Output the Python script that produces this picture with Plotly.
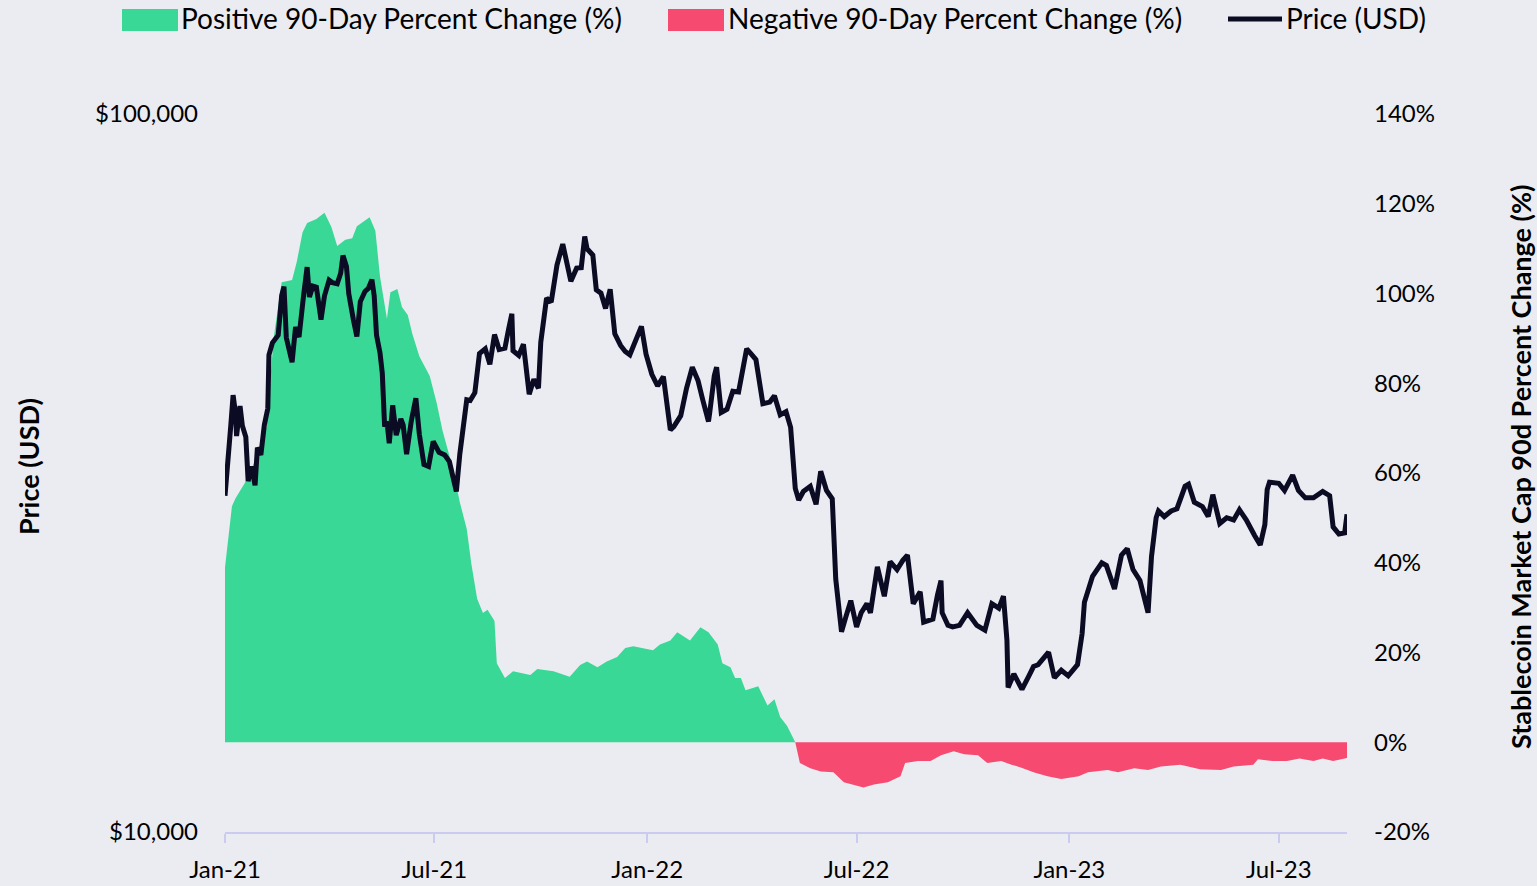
import plotly.graph_objects as go

# ---- Price (USD) ----
price_dates = [
 "2021-01-01","2021-01-03","2021-01-06","2021-01-08","2021-01-10","2021-01-11","2021-01-13","2021-01-14","2021-01-16","2021-01-19",
 "2021-01-21","2021-01-24","2021-01-27","2021-01-29","2021-02-01","2021-02-04","2021-02-07","2021-02-08","2021-02-11","2021-02-14",
 "2021-02-16","2021-02-19","2021-02-21","2021-02-23","2021-02-26","2021-02-28","2021-03-03","2021-03-06","2021-03-10","2021-03-13",
 "2021-03-15","2021-03-18","2021-03-21","2021-03-25","2021-03-28","2021-04-01","2021-04-04","2021-04-08","2021-04-11","2021-04-13",
 "2021-04-16","2021-04-18","2021-04-22","2021-04-25","2021-04-28","2021-05-02","2021-05-05","2021-05-08","2021-05-10","2021-05-12",
 "2021-05-15","2021-05-17","2021-05-19","2021-05-21","2021-05-23","2021-05-26","2021-05-29","2021-06-02","2021-06-04","2021-06-07",
 "2021-06-11","2021-06-15","2021-06-18","2021-06-22","2021-06-26","2021-06-30","2021-07-05","2021-07-10","2021-07-14","2021-07-17",
 "2021-07-20","2021-07-23","2021-07-25","2021-07-29","2021-08-01","2021-08-05","2021-08-09","2021-08-14","2021-08-18","2021-08-22",
 "2021-08-26","2021-08-31","2021-09-03","2021-09-06","2021-09-07","2021-09-12","2021-09-16","2021-09-20","2021-09-21","2021-09-25",
 "2021-09-29","2021-10-01","2021-10-06","2021-10-10","2021-10-15","2021-10-20","2021-10-24","2021-10-27","2021-11-01","2021-11-05",
 "2021-11-08","2021-11-10","2021-11-15","2021-11-18","2021-11-22","2021-11-26","2021-11-30","2021-12-04","2021-12-09","2021-12-13",
 "2021-12-17","2021-12-22","2021-12-27","2021-12-31","2022-01-05","2022-01-10","2022-01-15","2022-01-21","2022-01-24","2022-01-30",
 "2022-02-04","2022-02-09","2022-02-14","2022-02-18","2022-02-23","2022-02-24","2022-02-28","2022-03-02","2022-03-06","2022-03-11",
 "2022-03-16","2022-03-21","2022-03-28","2022-04-01","2022-04-05","2022-04-11","2022-04-17","2022-04-21","2022-04-26","2022-05-01",
 "2022-05-05","2022-05-09","2022-05-12","2022-05-16","2022-05-22","2022-05-27","2022-05-31","2022-06-05","2022-06-10","2022-06-13",
 "2022-06-18","2022-06-22","2022-06-26","2022-07-01","2022-07-05","2022-07-10","2022-07-13","2022-07-19","2022-07-25","2022-07-30",
 "2022-08-05","2022-08-10","2022-08-14","2022-08-19","2022-08-25","2022-08-28","2022-09-05","2022-09-09","2022-09-12","2022-09-13",
 "2022-09-18","2022-09-22","2022-09-28","2022-10-05","2022-10-13","2022-10-20","2022-10-26","2022-11-01","2022-11-05","2022-11-08",
 "2022-11-09","2022-11-14","2022-11-21","2022-11-27","2022-12-01","2022-12-05","2022-12-14","2022-12-19","2022-12-25","2022-12-31",
 "2023-01-08","2023-01-12","2023-01-14","2023-01-21","2023-01-29","2023-02-02","2023-02-09","2023-02-15","2023-02-20","2023-02-25",
 "2023-03-03","2023-03-10","2023-03-13","2023-03-17","2023-03-19","2023-03-24","2023-03-30","2023-04-04","2023-04-11","2023-04-14",
 "2023-04-19","2023-04-26","2023-05-01","2023-05-05","2023-05-11","2023-05-17","2023-05-23","2023-05-28","2023-06-03","2023-06-10",
 "2023-06-15","2023-06-19","2023-06-21","2023-06-23","2023-07-01","2023-07-06","2023-07-13","2023-07-18","2023-07-24","2023-07-31",
 "2023-08-08","2023-08-14","2023-08-17","2023-08-22","2023-08-27","2023-08-29",
]
price_usd = [
 29400,32800,36800,40600,38400,35600,37400,39200,36800,35500,
 30800,32300,30400,34300,33500,36900,38900,46200,48000,48700,
 49200,55900,57500,48800,46300,45100,50500,48900,56000,61200,
 55600,57600,57400,51700,55800,58700,58200,58000,60000,63500,
 61300,56200,51700,49000,54800,56600,57200,58800,55800,49200,
 46500,43500,36700,37300,34800,39300,35700,37600,36900,33600,
 37300,40200,35800,32500,32300,35000,33800,33500,32800,31500,
 29800,33600,35400,40000,39900,40900,46400,47100,44800,49300,
 47000,47200,50000,52700,46800,46100,47800,43000,40700,42700,
 41500,48100,55400,54700,61600,65900,61000,58500,61000,61100,
 67500,64900,63600,56900,56300,53600,57000,49400,47600,46700,
 46200,48600,50600,46300,43400,41800,43100,36300,36700,38000,
 41500,44400,42500,40000,37300,38300,43200,44400,38400,38800,
 41100,41000,47100,46300,45500,39500,39700,40500,38100,38500,
 36600,30100,29000,29800,30300,28600,31800,29900,29100,22500,
 19000,20000,21000,19300,20200,20800,20200,23400,21300,23800,
 23200,23900,24300,20800,21600,19600,19800,21400,22400,20200,
 19400,19300,19400,20200,19400,19100,20800,20500,21300,18500,
 15900,16600,15800,16500,17000,17100,17800,16400,16800,16500,
 17100,18900,20900,22700,23700,23500,21800,24300,24800,23200,
 22400,20200,24200,27400,28000,27500,28000,28200,30300,30500,
 28800,28400,27500,29500,26900,27400,27200,28100,27200,25900,
 25100,26800,30000,30700,30600,29900,31400,29900,29200,29200,
 29800,29400,26600,26000,26100,27700,
]

# ---- Stablecoin market cap 90-day percent change (%) ----
chg_dates = [
 "2021-01-01","2021-01-03","2021-01-07","2021-01-10","2021-01-14","2021-01-18","2021-01-31","2021-02-06","2021-02-09","2021-02-12",
 "2021-02-19","2021-02-28","2021-03-04","2021-03-09","2021-03-13","2021-03-21","2021-03-28","2021-04-03","2021-04-08","2021-04-15",
 "2021-04-21","2021-04-25","2021-05-06","2021-05-11","2021-05-15","2021-05-21","2021-05-24","2021-05-30","2021-06-03","2021-06-08",
 "2021-06-12","2021-06-18","2021-06-27","2021-07-03","2021-07-08","2021-07-17","2021-07-23","2021-07-29","2021-08-02","2021-08-07",
 "2021-08-12","2021-08-16","2021-08-22","2021-08-24","2021-08-31","2021-09-07","2021-09-22","2021-09-28","2021-10-12","2021-10-26",
 "2021-11-04","2021-11-10","2021-11-19","2021-11-27","2021-12-06","2021-12-13","2021-12-20","2021-12-29","2022-01-06","2022-01-12",
 "2022-01-21","2022-01-27","2022-02-07","2022-02-16","2022-02-23","2022-03-03","2022-03-07","2022-03-14","2022-03-18","2022-03-23",
 "2022-03-27","2022-04-07","2022-04-15","2022-04-21","2022-04-26","2022-05-02","2022-05-09","2022-05-13","2022-05-22","2022-05-31",
 "2022-06-11","2022-06-20","2022-06-28","2022-07-07","2022-07-16","2022-07-28","2022-08-08","2022-08-12","2022-08-23","2022-09-03",
 "2022-09-12","2022-09-23","2022-10-02","2022-10-14","2022-10-22","2022-11-03","2022-11-12","2022-11-20","2022-12-01","2022-12-13",
 "2022-12-25","2023-01-09","2023-01-17","2023-02-03","2023-02-12","2023-02-26","2023-03-10","2023-03-21","2023-04-07","2023-04-24",
 "2023-05-12","2023-05-23","2023-06-09","2023-06-13","2023-06-26","2023-07-08","2023-07-19","2023-07-31","2023-08-08","2023-08-17",
 "2023-08-29",
]
chg_pct = [
 39.0,44.0,52.6,54.3,56.0,57.7,65.0,70.4,80.0,90.0,
 102.5,103.0,107.0,113.6,115.7,116.6,118.0,114.8,110.6,112.0,
 112.3,115.0,117.0,114.0,103.8,94.4,100.3,101.0,97.0,95.2,
 91.0,86.0,81.6,75.6,69.5,61.0,53.5,47.5,39.7,32.0,
 28.8,29.5,27.0,17.6,14.3,15.8,15.0,16.3,15.8,14.6,
 17.2,18.0,16.7,18.0,19.0,21.0,21.4,21.0,20.5,21.8,
 22.7,24.5,22.7,25.6,24.5,21.8,17.6,16.7,14.3,14.3,
 11.6,12.5,8.2,9.6,5.6,3.6,0.0,-4.6,-5.8,-6.5,
 -6.7,-8.9,-9.4,-10.1,-9.4,-8.9,-7.6,-4.6,-4.2,-4.2,
 -2.9,-2.0,-2.7,-2.9,-4.6,-4.2,-5.0,-5.6,-6.7,-7.6,
 -8.2,-7.6,-6.7,-6.2,-6.7,-5.8,-6.2,-5.4,-5.0,-6.0,
 -6.2,-5.4,-5.0,-3.8,-4.2,-4.2,-3.6,-4.2,-3.6,-4.2,
 -3.5,
]

legend_labels = ["Positive 90-Day Percent Change (%)", "Negative 90-Day Percent Change (%)", "Price (USD)"]

pos_vals = [max(v, 0) for v in chg_pct]
neg_vals = [min(v, 0) for v in chg_pct]

GREEN = "#3AD896"
RED = "#F74A70"
DARK = "#0B0B24"
BG = "#EBECF2"
LAV = "#CBCAEF"
FONT = "Lato"

fig = go.Figure()
fig.add_trace(go.Scatter(
    x=chg_dates, y=pos_vals, name=legend_labels[0],
    mode="lines", line=dict(width=0, color=GREEN), fill="tozeroy",
    fillcolor=GREEN, yaxis="y", showlegend=False))
fig.add_trace(go.Scatter(
    x=chg_dates, y=neg_vals, name=legend_labels[1],
    mode="lines", line=dict(width=0, color=RED), fill="tozeroy",
    fillcolor=RED, yaxis="y", showlegend=False))
fig.add_trace(go.Scatter(
    x=price_dates, y=price_usd, name=legend_labels[2],
    mode="lines", line=dict(width=5, color=DARK), yaxis="y2", showlegend=False))

# pixel -> paper helpers for the hand-built legend (plot area: x 225..1347, y 114..832)
PL, PW, PB, PH = 225, 1122, 832, 718
def px(x):
    return (x - PL) / PW
def py(y):
    return (PB - y) / PH

shapes = [
    dict(type="rect", xref="paper", yref="paper", x0=px(122), x1=px(178), y0=py(31), y1=py(9),
         fillcolor=GREEN, line=dict(width=0), layer="above"),
    dict(type="rect", xref="paper", yref="paper", x0=px(668), x1=px(724), y0=py(31), y1=py(9),
         fillcolor=RED, line=dict(width=0), layer="above"),
    dict(type="line", xref="paper", yref="paper", x0=px(1228), x1=px(1282), y0=py(19), y1=py(19),
         line=dict(width=5, color=DARK), layer="above"),
]
legend_annots = [
    dict(text=legend_labels[0], x=px(179), y=py(18)),
    dict(text=legend_labels[1], x=px(726), y=py(18)),
    dict(text=legend_labels[2], x=px(1284), y=py(18)),
]
annotations = []
for a in legend_annots:
    annotations.append(dict(text=a["text"], xref="paper", yref="paper", x=a["x"], y=a["y"],
                            xanchor="left", yanchor="middle", showarrow=False,
                            font=dict(family=FONT, size=28, color="#000000")))
annotations += [
    dict(text="<b>Price (USD)</b>", xref="paper", yref="paper",
         x=px(28), y=py(467), xanchor="center", yanchor="middle",
         textangle=-90, showarrow=False,
         font=dict(family=FONT, size=27, color="#000000")),
    dict(text="<b>Stablecoin Market Cap 90d Percent Change (%)</b>", xref="paper", yref="paper",
         x=px(1520), y=py(467), xanchor="center", yanchor="middle",
         textangle=-90, showarrow=False,
         font=dict(family=FONT, size=27, color="#000000")),
]

fig.update_layout(
    width=1537, height=886,
    paper_bgcolor=BG, plot_bgcolor=BG,
    font=dict(family=FONT, size=24, color="#000000"),
    margin=dict(l=225, r=190, t=114, b=54, autoexpand=False),
    showlegend=False,
    shapes=shapes,
    annotations=annotations,
    xaxis=dict(
        type="date", range=["2021-01-01", "2023-08-29"],
        tickvals=["2021-01-01", "2021-07-01", "2022-01-01", "2022-07-01", "2023-01-01", "2023-07-01"],
        ticktext=["Jan-21", "Jul-21", "Jan-22", "Jul-22", "Jan-23", "Jul-23"],
        showgrid=False, zeroline=False,
        showline=True, linecolor=LAV, linewidth=2,
        ticks="outside", ticklen=9, tickcolor=LAV, tickwidth=2,
        ticklabelstandoff=6, automargin=False,
        tickfont=dict(family=FONT, size=24),
    ),
    yaxis=dict(
        side="right", range=[-20, 140],
        tickvals=[-20, 0, 20, 40, 60, 80, 100, 120, 140],
        ticktext=["-20%", "0%", "20%", "40%", "60%", "80%", "100%", "120%", "140%"],
        showgrid=False, zeroline=False, showline=False,
        ticks="", ticklabelstandoff=26, automargin=False,
        tickfont=dict(family=FONT, size=24),
    ),
    yaxis2=dict(
        type="log", range=[4, 5], overlaying="y", side="left",
        tickvals=[10000, 100000], ticktext=["$10,000", "$100,000"],
        showgrid=True, gridcolor=LAV, gridwidth=2,
        zeroline=False, showline=False, ticks="", ticklabelstandoff=26, automargin=False,
        tickfont=dict(family=FONT, size=24),
    ),
)

fig.write_html("out.html", config={"displayModeBar": False},
               post_script="document.body.style.margin='0';document.body.style.overflow='hidden';")
